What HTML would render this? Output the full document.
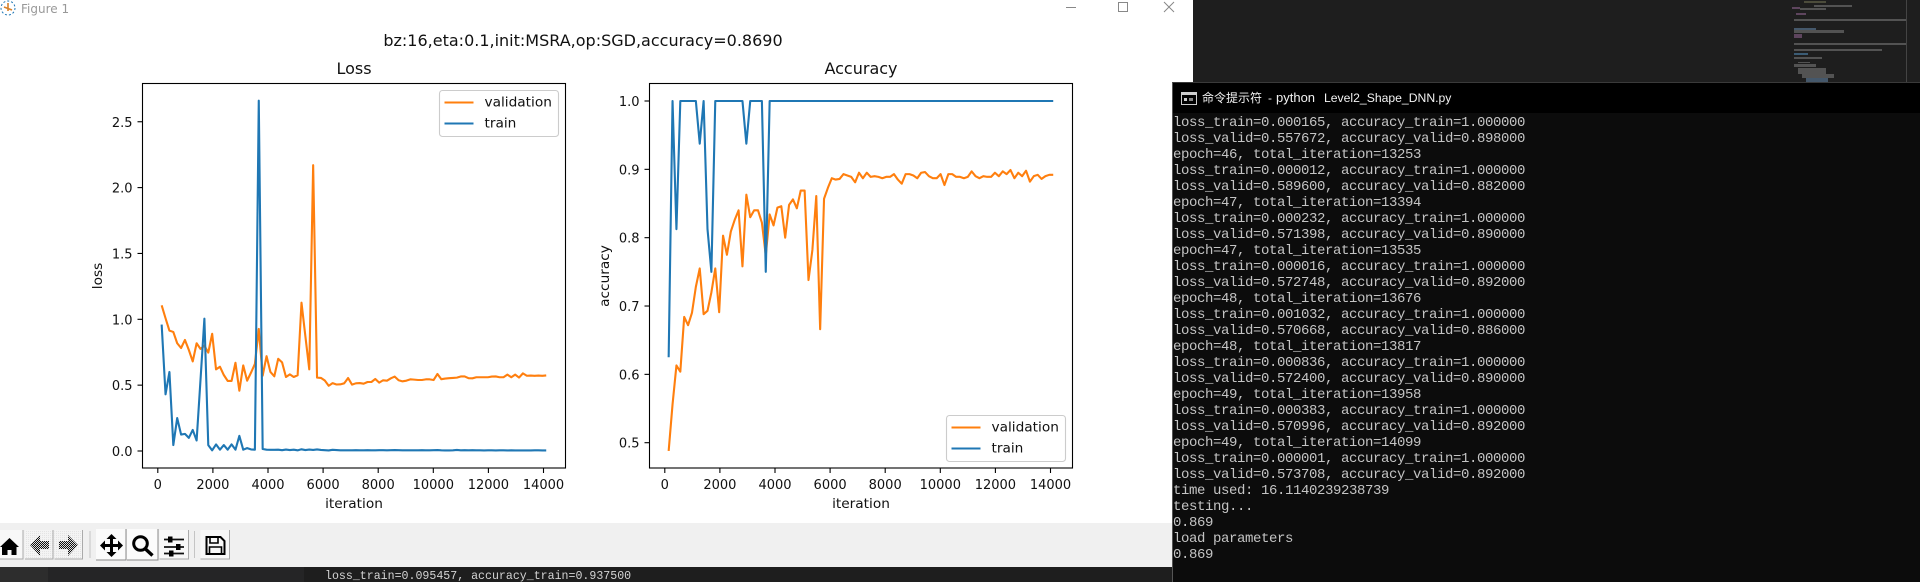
<!DOCTYPE html>
<html lang="en">
<head>
<meta charset="utf-8">
<title>Figure 1</title>
<style>
html,body{margin:0;padding:0;background:#1e1e1e;}
body{position:relative;width:1920px;height:582px;overflow:hidden;font-family:"DejaVu Sans",sans-serif;}
.box{position:absolute;}
#terminal-text{position:absolute;left:1173px;top:115px;margin:0;color:#c4c4c4;font:14px/16px "Liberation Mono","Noto Sans CJK SC",monospace;letter-spacing:-0.4px;white-space:pre;}
svg text{font-family:"DejaVu Sans",sans-serif;fill:#111;}
</style>
</head>
<body>
<div class="box" style="left:1193px;top:0;width:727px;height:83px;background:#1e1e1e;"></div>
<svg class="box" style="left:1790px;top:0;" width="130" height="83">
  <g fill="#777" opacity=".6">
    <rect x="14" y="1" width="22" height="2" fill="#6b6b4f"/>
    <rect x="24" y="5" width="38" height="2"/>
    <rect x="2" y="7" width="8" height="2" fill="#8a5f8a"/>
    <rect x="10" y="8" width="26" height="2"/>
    <rect x="6" y="13" width="10" height="2" fill="#8a5f8a"/>
    <rect x="4" y="19" width="112" height="2"/>
    <rect x="4" y="28" width="22" height="2" fill="#5f7f9f"/>
    <rect x="4" y="30" width="50" height="3"/>
    <rect x="4" y="34" width="8" height="4" fill="#8a5f8a"/>
    <rect x="4" y="43" width="112" height="2"/>
    <rect x="4" y="49" width="88" height="2"/>
    <rect x="4" y="53" width="14" height="2" fill="#4f86b0"/>
    <rect x="4" y="57" width="28" height="2"/>
    <rect x="8" y="62" width="12" height="1"/>
    <rect x="4" y="64" width="22" height="3"/>
    <rect x="8" y="68" width="28" height="6"/>
    <rect x="12" y="74" width="32" height="4"/>
    <rect x="16" y="78" width="22" height="4" fill="#5f7f9f"/>
  </g>
  <rect x="116" y="0" width="1" height="83" fill="#444"/>
</svg>

<div class="box" style="left:0;top:0;width:1172px;height:523px;background:#fff;"></div>
<div class="box" style="left:1172px;top:0;width:21px;height:83px;background:#fff;"></div>

<svg class="box" id="figure" style="left:0;top:0;" width="1193" height="523"></svg>

<div class="box" style="left:0;top:523px;width:1172px;height:44px;background:#f0f0f0;"></div>
<svg class="box" style="left:0;top:523px;" width="240" height="44">
  <defs>
    <pattern id="dither" width="2" height="2" patternUnits="userSpaceOnUse"><rect width="2" height="2" fill="#ddd"/><rect width="1" height="1" fill="#111"/><rect x="1" y="1" width="1" height="1" fill="#111"/></pattern>
    <pattern id="dither-light" width="2" height="2" patternUnits="userSpaceOnUse"><rect width="2" height="2" fill="#f4f4f4"/><rect width="1" height="1" fill="#e4e4e4"/></pattern>
  </defs>
  <g>
    <rect x="-4" y="7" width="27" height="29" fill="#f8f8f8"/>
    <path d="M23 7v29H-4" fill="none" stroke="#aaa" stroke-width="1"/>
    <polygon points="0,24 9.5,15 19,24 16.5,24 16.5,32 11.5,32 11.5,27 7.5,27 7.5,32 2,32 2,24" fill="#000"/>
  </g>
  <g>
    <rect x="25" y="7" width="28" height="29" fill="url(#dither-light)"/>
    <path d="M53 7v29H25" fill="none" stroke="#aaa" stroke-width="1"/>
    <polygon points="30,22 40,12 40,18 49,18 49,26 40,26 40,33" fill="url(#dither)"/>
  </g>
  <g>
    <rect x="54.5" y="7" width="28" height="29" fill="url(#dither-light)"/>
    <path d="M82.5 7v29H54.5" fill="none" stroke="#aaa" stroke-width="1"/>
    <polygon points="78,22 68,12 68,18 59,18 59,26 68,26 68,33" fill="url(#dither)"/>
  </g>
  <rect x="89.5" y="8" width="1" height="27" fill="#c4c4c4"/>
  <g>
    <rect x="96" y="6" width="30" height="31" fill="#fbfbfb"/>
    <path d="M126 6v31H96" fill="none" stroke="#888" stroke-width="1"/>
    <path d="M111.5 14v16M103 22.5h17" stroke="#000" stroke-width="3"/>
    <polygon points="111.5,11 106.5,16 116.5,16" fill="#000"/><polygon points="111.5,34 106.5,29 116.5,29" fill="#000"/>
    <polygon points="100,22.5 105,17.5 105,27.5" fill="#000"/><polygon points="123,22.5 118,17.5 118,27.5" fill="#000"/>
  </g>
  <g>
    <rect x="127" y="6" width="31" height="31" fill="#fbfbfb"/>
    <path d="M158 6v31H127" fill="none" stroke="#888" stroke-width="1"/>
    <circle cx="140.5" cy="20.5" r="6.8" fill="none" stroke="#000" stroke-width="3"/>
    <path d="M145.5 26l7 6.5" stroke="#000" stroke-width="3.4"/>
  </g>
  <g>
    <rect x="159.5" y="7" width="29" height="29" fill="#f8f8f8"/>
    <path d="M188.5 7v29H159.5" fill="none" stroke="#aaa" stroke-width="1"/>
    <path d="M164 16.5h20M164 24h20M164 30.5h20" stroke="#111" stroke-width="1.8"/>
    <rect x="168" y="13.5" width="4.5" height="6" fill="#000"/><rect x="176" y="21" width="4.5" height="6" fill="#000"/><rect x="169" y="27.5" width="4.5" height="6" fill="#000"/>
  </g>
  <rect x="194" y="8" width="1" height="27" fill="#c4c4c4"/>
  <g>
    <rect x="200.5" y="7" width="29" height="29" fill="#f8f8f8"/>
    <path d="M229.5 7v29H200.5" fill="none" stroke="#aaa" stroke-width="1"/>
    <path d="M206.5 15h14l4 4v13h-18z" fill="none" stroke="#000" stroke-width="2" transform="translate(0 -1)"/>
    <path d="M210 14v6h8v-6M209.5 31v-7h12v7" fill="none" stroke="#000" stroke-width="1.6"/>
  </g>
</svg>

<div class="box" style="left:0;top:567px;width:48px;height:15px;background:#2d2d2d;"></div>
<div class="box" style="left:48px;top:567px;width:256px;height:15px;background:#252526;"></div>
<div class="box" style="left:304px;top:567px;width:868px;height:15px;background:#1e1e1e;overflow:hidden;">
  <div style="position:absolute;left:21px;top:3px;color:#d4d4d4;font:11.6px/14px 'Liberation Mono',monospace;white-space:pre;">loss_train=0.095457, accuracy_train=0.937500</div>
</div>

<div class="box" style="left:1172px;top:82px;width:748px;height:500px;background:#0c0c0c;border-top:1px solid #3a3a3a;box-sizing:border-box;border-left:1px solid #555;">
</div>
<div class="box" style="left:1173px;top:83px;width:747px;height:30px;background:#000;">
  <svg style="position:absolute;left:8px;top:9px;" width="16" height="13"><rect x=".5" y=".5" width="15" height="12" fill="#000" stroke="#ccc"/><rect x="1" y="1" width="14" height="2" fill="#ccc"/><rect x="3" y="6" width="3" height="3" fill="#ccc"/><rect x="8" y="6" width="4" height="3" fill="#888"/></svg>
  <div style="position:absolute;left:0;top:6px;width:400px;height:18px;color:#f2f2f2;font:12px/18px 'Liberation Sans','Noto Sans CJK SC',sans-serif;white-space:pre;"><span style="position:absolute;left:29px;">命令提示符</span><span style="position:absolute;left:95px;">-</span><span style="position:absolute;left:103px;font-size:13px;">python</span><span style="position:absolute;left:151px;font-size:12.2px;">Level2_Shape_DNN.py</span></div>
</div>
<pre id="terminal-text">loss_train=0.000165, accuracy_train=1.000000
loss_valid=0.557672, accuracy_valid=0.898000
epoch=46, total_iteration=13253
loss_train=0.000012, accuracy_train=1.000000
loss_valid=0.589600, accuracy_valid=0.882000
epoch=47, total_iteration=13394
loss_train=0.000232, accuracy_train=1.000000
loss_valid=0.571398, accuracy_valid=0.890000
epoch=47, total_iteration=13535
loss_train=0.000016, accuracy_train=1.000000
loss_valid=0.572748, accuracy_valid=0.892000
epoch=48, total_iteration=13676
loss_train=0.001032, accuracy_train=1.000000
loss_valid=0.570668, accuracy_valid=0.886000
epoch=48, total_iteration=13817
loss_train=0.000836, accuracy_train=1.000000
loss_valid=0.572400, accuracy_valid=0.890000
epoch=49, total_iteration=13958
loss_train=0.000383, accuracy_train=1.000000
loss_valid=0.570996, accuracy_valid=0.892000
epoch=49, total_iteration=14099
loss_train=0.000001, accuracy_train=1.000000
loss_valid=0.573708, accuracy_valid=0.892000
time used: 16.1140239238739
testing...
0.869
load parameters
0.869</pre>

<script>
const iterations = [140,281,422,563,704,845,986,1127,1268,1409,1550,1691,1832,1973,2114,2255,2396,2537,2678,2819,2960,3101,3242,3383,3524,3665,3806,3947,4088,4229,4370,4511,4652,4793,4934,5075,5216,5357,5498,5639,5780,5921,6062,6203,6344,6485,6626,6767,6908,7049,7190,7331,7472,7613,7754,7895,8036,8177,8318,8459,8600,8741,8882,9023,9164,9305,9446,9587,9728,9869,10010,10151,10292,10433,10574,10715,10856,10997,11138,11279,11420,11561,11702,11843,11984,12125,12266,12407,12548,12689,12830,12971,13112,13253,13394,13535,13676,13817,13958,14099];
const lossValidation = [
1.106,1.008,.914,.904,.818,.782,.843,.767,.68,.818,
.775,.80,.747,.89,.62,.64,.577,.532,.532,.67,
.458,.65,.534,.595,.661,.927,.572,.72,.60,.567,
.70,.673,.562,.582,.562,.575,1.126,.87,.62,2.17,
.557,.555,.535,.495,.515,.505,.506,.514,.554,.504,
.514,.516,.511,.524,.524,.547,.519,.537,.534,.552,
.565,.537,.529,.534,.544,.542,.539,.539,.544,.544,
.539,.585,.545,.55,.553,.555,.557,.566,.566,.553,
.552,.56,.56,.56,.56,.565,.566,.56,.56,.58,
.56,.58,.5577,.5896,.5714,.5727,.5707,.5724,.571,.5737];
const lossTrain = [
.96,.43,.60,.045,.25,.125,.13,.10,.16,.08,
.54,1.005,.045,.005,.05,.01,.045,.01,.05,.01,
.115,.01,.022,.012,.01,2.66,.015,.01,.009,.009,
.01,.006,.011,.007,.01,.005,.013,.007,.011,.008,
.012,.008,.006,.004,.009,.007,.005,.005,.005,.005,
.006,.005,.005,.006,.005,.005,.006,.006,.005,.006,
.007,.006,.005,.005,.005,.005,.005,.006,.005,.005,
.006,.007,.005,.004,.004,.005,.008,.005,.006,.005,
.006,.005,.005,.004,.005,.005,.004,.005,.005,.004,
.005,.004,.004,.004,.004,.004,.005,.005,.004,.004];
const accValidation = [
.488,.556,.613,.604,.684,.672,.69,.728,.755,.688,
.693,.72,.755,.691,.803,.775,.809,.826,.84,.758,
.863,.83,.84,.84,.822,.774,.834,.818,.844,.846,
.80,.848,.856,.843,.869,.869,.738,.782,.861,.666,
.857,.873,.887,.885,.886,.893,.891,.889,.881,.895,
.887,.895,.889,.89,.889,.887,.889,.889,.893,.885,
.879,.893,.893,.891,.887,.895,.896,.89,.887,.887,
.893,.877,.893,.893,.889,.889,.887,.889,.897,.89,
.887,.89,.889,.889,.895,.89,.897,.893,.899,.887,
.895,.89,.898,.882,.89,.892,.886,.89,.892,.892];
const accTrain = [
.625,1,.8125,1,1,1,1,1,.9375,1,
.8125,.75,1,1,1,1,1,1,1,1,
.9375,1,1,1,1,.75,1,1,1,1,
1,1,1,1,1,1,1,1,1,1,
1,1,1,1,1,1,1,1,1,1,
1,1,1,1,1,1,1,1,1,1,
1,1,1,1,1,1,1,1,1,1,
1,1,1,1,1,1,1,1,1,1,
1,1,1,1,1,1,1,1,1,1,
1,1,1,1,1,1,1,1,1,1];
const xTickValues = [0,2000,4000,6000,8000,10000,12000,14000];
const lossTickValues = [0,0.5,1,1.5,2,2.5];
const lossTickLabels = ['0.0','0.5','1.0','1.5','2.0','2.5'];
const accTickValues = [0.5,0.6,0.7,0.8,0.9,1];
const accTickLabels = ['0.5','0.6','0.7','0.8','0.9','1.0'];
const legendLabels = ['validation','train'];

const NS = 'http://www.w3.org/2000/svg';
const fig = document.getElementById('figure');
const ORANGE = '#ff7f0e', BLUE = '#1f77b4';

function mk(tag, attrs, parent, txt) {
  const e = document.createElementNS(NS, tag);
  for (const k in attrs) e.setAttribute(k, attrs[k]);
  if (txt !== undefined) e.textContent = txt;
  (parent || fig).appendChild(e);
  return e;
}
function linear(d0, d1, r0, r1) {
  return v => r0 + (v - d0) * (r1 - r0) / (d1 - d0);
}

function drawAxes(o) {
  const g = mk('g', {});
  
  
  const L = o.left, R = o.left + 423, T = 83.5, B = 468;
  const X = linear(0, 14000, L + 15.3, L + 401);
  const Y = o.y;
  const tGroup = mk('g', {}, g);
  
  
  xTickValues.forEach(v => {
    const x = X(v);
    mk('line', {x1:x, x2:x, y1:B, y2:B + 5, stroke:'#000', 'stroke-width':1.1}, tGroup);
    const t = mk('text', {x:x, y:B + 21, 'text-anchor':'middle', 'font-size':13}, tGroup, String(v));
    
    
  });
  o.yTicks.forEach((v, i) => {
    const y = Y(v);
    mk('line', {x1:L - 5, x2:L, y1:y, y2:y, stroke:'#000', 'stroke-width':1.1}, tGroup);
    const t = mk('text', {x:L - 10, y:y + 5, 'text-anchor':'end', 'font-size':13}, tGroup, o.yLabels[i]);
    
    
  });
  const pts = s => s.map((v, i) => X(iterations[i]).toFixed(2) + ',' + Y(v).toFixed(2)).join(' ');
  const lineVal = mk('polyline', {points:pts(o.validation), fill:'none', stroke:ORANGE, 'stroke-width':2.1, 'stroke-linejoin':'round'}, g);
  
  
  const lineTrain = mk('polyline', {points:pts(o.train), fill:'none', stroke:BLUE, 'stroke-width':2.1, 'stroke-linejoin':'round'}, g);
  
  
  const frame = mk('rect', {x:L, y:T, width:R - L, height:B - T, fill:'none', stroke:'#000', 'stroke-width':1.1}, g);
  
  
  const title = mk('text', {x:(L + R) / 2, y:74, 'text-anchor':'middle', 'font-size':16}, g, o.title);
  
  
  const xl = mk('text', {x:(L + R) / 2, y:508, 'text-anchor':'middle', 'font-size':13.7}, g, 'iteration');
  
  
  const yl = mk('text', {x:0, y:0, 'text-anchor':'middle', 'font-size':13.7, transform:'translate(' + o.ylabelX + ',276) rotate(-90)'}, g, o.ylabel);
  
  
  const lg = mk('g', {}, g);
  
  
  const lx = o.legend.x, ly = o.legend.y;
  mk('rect', {x:lx, y:ly, width:119, height:46, rx:3, fill:'#fff', 'fill-opacity':.85, stroke:'#ccc', 'stroke-width':1.1}, lg);
  [ORANGE, BLUE].forEach((c, i) => {
    const ey = ly + 12 + i * 21;
    mk('line', {x1:lx + 5, x2:lx + 34, y1:ey, y2:ey, stroke:c, 'stroke-width':2.1}, lg);
    const t = mk('text', {x:lx + 45, y:ey + 4, 'font-size':13.7}, lg, legendLabels[i]);
    
    
  });
}

drawAxes({name:'loss-chart', title:'Loss', left:142.5, ylabel:'loss', ylabelX:102,
  y:linear(0, 1, 451, 319.3), yTicks:lossTickValues, yLabels:lossTickLabels,
  validation:lossValidation, train:lossTrain, legend:{x:439.5, y:90.5}});
drawAxes({name:'accuracy-chart', title:'Accuracy', left:649.5, ylabel:'accuracy', ylabelX:609,
  y:linear(0.5, 1, 442.7, 101), yTicks:accTickValues, yLabels:accTickLabels,
  validation:accValidation, train:accTrain, legend:{x:946.5, y:415.5}});

const sup = mk('text', {x:583, y:46, 'text-anchor':'middle', 'font-size':16}, fig, 'bz:16,eta:0.1,init:MSRA,op:SGD,accuracy=0.8690');



const wt = mk('text', {x:21, y:13, 'font-size':12, style:'fill:#999'}, fig, 'Figure 1');



const ic = mk('g', {fill:'none'});


mk('circle', {cx:8, cy:8, r:7, stroke:'#1f77b4', 'stroke-width':1, 'stroke-dasharray':'2 2'}, ic);
mk('path', {d:'M8 3v8M4 7l8 3', stroke:'#d9822b', 'stroke-width':1.6}, ic);

const minB = mk('line', {x1:1066, x2:1076, y1:7.5, y2:7.5, stroke:'#888', 'stroke-width':1});


const maxB = mk('rect', {x:1118.5, y:2.5, width:9, height:9, fill:'none', stroke:'#888', 'stroke-width':1});


const clsB = mk('path', {d:'M1164 2l10 10M1174 2l-10 10', fill:'none', stroke:'#888', 'stroke-width':1});


</script>
</body>
</html>
